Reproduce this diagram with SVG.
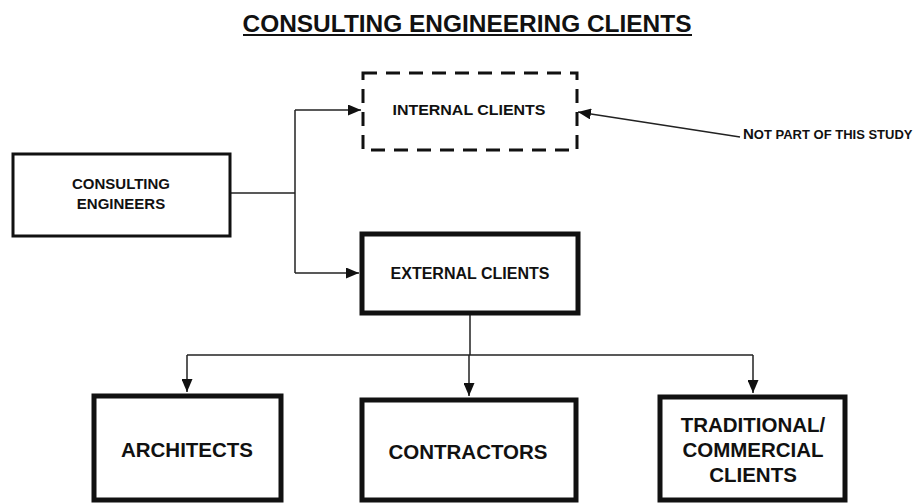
<svg xmlns="http://www.w3.org/2000/svg" width="913" height="504" viewBox="0 0 913 504">
<style>
text{font-family:"Liberation Sans",Arial,sans-serif;font-weight:bold;fill:#111;text-anchor:middle}
.box{fill:#fff;stroke:#111}
.thin{stroke-width:3}
.thick{stroke-width:5}
.dash{stroke-width:3;stroke-dasharray:14,9}
.conn{fill:none;stroke:#222;stroke-width:1.5}
</style>
<defs>
<marker id="ah" viewBox="0 0 13 11" refX="13" refY="5.5" markerWidth="13" markerHeight="11" markerUnits="userSpaceOnUse" orient="auto">
<path d="M0,0 L13,5.5 L0,11 Z" fill="#111"/>
</marker>
</defs>
<rect width="913" height="504" fill="#fff"/>
<g id="title">
<text x="467" y="32" font-size="24" textLength="449" lengthAdjust="spacingAndGlyphs">CONSULTING ENGINEERING CLIENTS</text>
<line x1="243" y1="35" x2="692" y2="35" stroke="#111" stroke-width="2"/>
</g>
<g id="connectors">
<polyline class="conn" points="230,193 295,193"/>
<polyline class="conn" points="295,110 295,273"/>
<polyline class="conn" points="295,110 361,110" marker-end="url(#ah)"/>
<polyline class="conn" points="295,273 359,273" marker-end="url(#ah)"/>
<polyline class="conn" points="740,137 578,112" marker-end="url(#ah)"/>
<polyline class="conn" points="470,315 470,355"/>
<polyline class="conn" points="187,355 753,355"/>
<polyline class="conn" points="187,355 187,392" marker-end="url(#ah)"/>
<polyline class="conn" points="469,355 469,396" marker-end="url(#ah)"/>
<polyline class="conn" points="753,355 753,393" marker-end="url(#ah)"/>
</g>
<g id="consulting-engineers">
<rect class="box thin" x="13" y="154" width="217" height="82"/>
<text x="121" y="189" font-size="15">CONSULTING</text>
<text x="121" y="209" font-size="15">ENGINEERS</text>
</g>
<g id="internal-clients">
<rect class="box dash" x="363" y="73" width="214" height="77"/>
<text x="469" y="115" font-size="15" textLength="153" lengthAdjust="spacingAndGlyphs">INTERNAL CLIENTS</text>
</g>
<g id="note">
<text x="743" y="139" font-size="13" style="text-anchor:start"><tspan font-size="15">N</tspan>OT PART OF THIS STUDY</text>
</g>
<g id="external-clients">
<rect class="box thick" x="362" y="234" width="216" height="79"/>
<text x="470" y="279" font-size="16">EXTERNAL CLIENTS</text>
</g>
<g id="architects">
<rect class="box thick" x="94" y="396" width="187" height="104"/>
<text x="187" y="457" font-size="20.5">ARCHITECTS</text>
</g>
<g id="contractors">
<rect class="box thick" x="362" y="400" width="214" height="100"/>
<text x="468" y="459" font-size="20.5">CONTRACTORS</text>
</g>
<g id="traditional-commercial-clients">
<rect class="box thick" x="660" y="397" width="185" height="103"/>
<text x="753" y="432" font-size="20.5">TRADITIONAL/</text>
<text x="753" y="457" font-size="20.5">COMMERCIAL</text>
<text x="753" y="482" font-size="20.5">CLIENTS</text>
</g>
</svg>
